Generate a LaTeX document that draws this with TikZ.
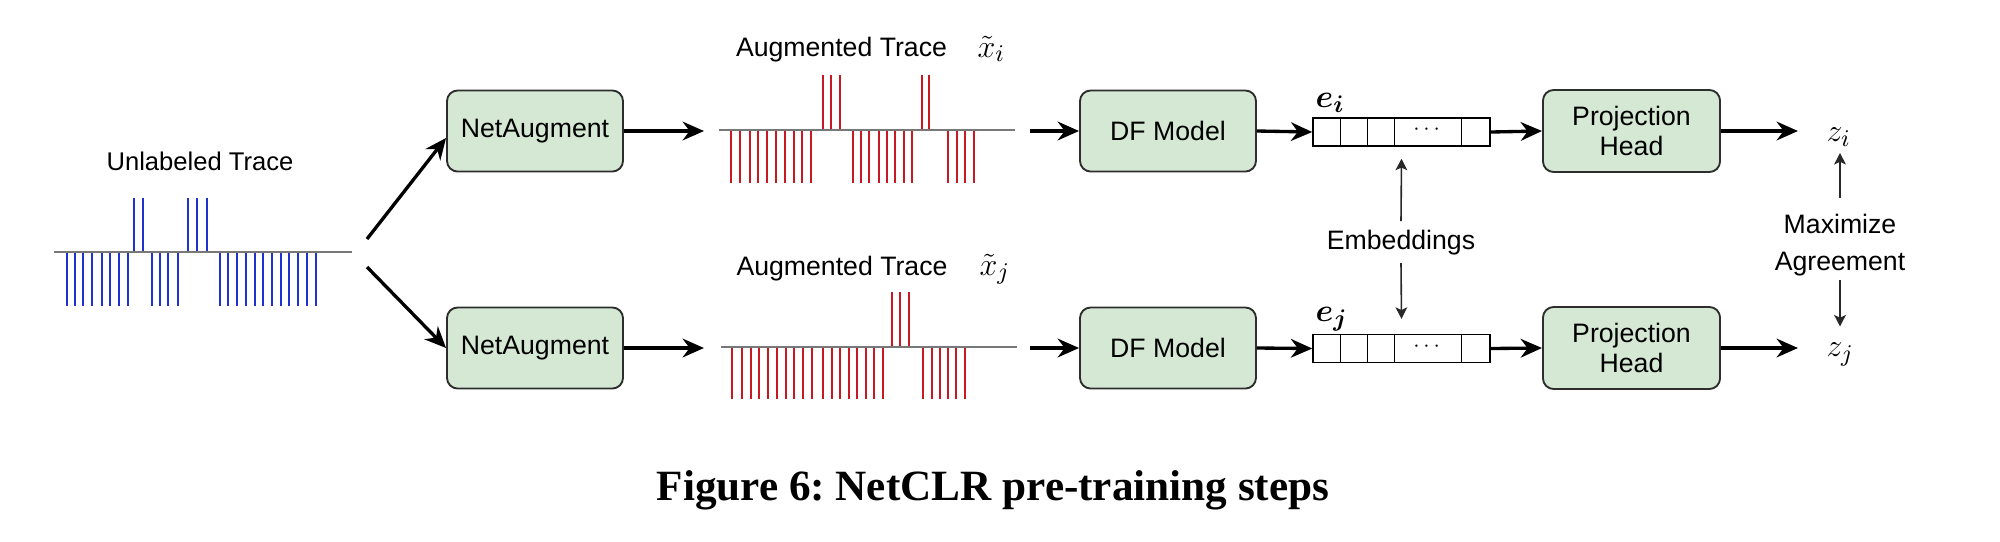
\documentclass[tikz,border=0pt]{standalone}
\usepackage{amsmath}
\usepackage{fontspec}
\setmainfont{Liberation Sans}
\newfontfamily\capfont{Liberation Serif}
\usetikzlibrary{arrows.meta}
\definecolor{boxfill}{RGB}{213,232,212}
\definecolor{boxline}{RGB}{45,45,45}
\definecolor{basegray}{RGB}{120,120,120}
\definecolor{tblue}{RGB}{30,50,210}
\definecolor{tred}{RGB}{200,25,35}
\definecolor{thingray}{RGB}{40,40,40}
\begin{document}
\begin{tikzpicture}[x=0.375pt,y=-0.375pt,
  box/.style={draw=boxline, fill=boxfill, rounded corners=4pt, line width=0.7pt,
    minimum width=66pt, minimum height=30.4pt, align=center, inner sep=0pt,
    font=\fontsize{10}{11.5}\selectfont},
  arr/.style={-{Stealth[length=8pt,width=7pt,inset=2.6pt]}, line width=1.25pt},
  thinarr/.style={-{Stealth[length=4.3pt,width=4.4pt,inset=1pt]}, line width=0.6pt, draw=thingray},
  baseline/.style={draw=basegray, line width=0.85pt},
  bbar/.style={draw=tblue, line width=0.85pt},
  rbar/.style={draw=tred, line width=0.85pt},
  lbl/.style={font=\fontsize{10}{12}\selectfont, inner sep=0pt},
  vec/.style={draw, line width=0.55pt, minimum width=66.4pt, minimum height=10.5pt, inner sep=0pt},
  mathlbl/.style={inner sep=0pt, font=\fontsize{13}{15}\selectfont}
]
\useasboundingbox (0,0) rectangle (2000,541);

% ---- Unlabeled trace ----
\node[lbl, anchor=base, font=\fontsize{9.6}{11}\selectfont] (ulab) at (200,170.7) {Unlabeled Trace};
\foreach \x in {67.3,75,83.3,92.3,101.7,110,119,128.3,151.7,160,168.3,177.7,220,228.3,236.7,245.7,255,263.3,272.3,280.7,289.3,297.7,306.7,316}
  \draw[bbar] (\x,252) -- (\x,306);
\foreach \x in {134.3,143.3,188.3,197.3,206.7}
  \draw[bbar] (\x,252) -- (\x,198);
\draw[baseline] (54,252) -- (352,252);

% ---- Augmented trace i ----
\node[lbl, anchor=base] (atli) at (841.5,56) {Augmented Trace};
\node[mathlbl, anchor=base west] (xi) at (977,57) {$\tilde{x}_i$};
\foreach \x in {731,740.3,749.7,758.3,766.7,776,785,793.7,802,811,852.7,861,869.3,878.7,887,895.3,903.7,912,948.3,957,965.3,974.3}
  \draw[rbar] (\x,130) -- (\x,182.7);
\foreach \x in {822.7,831,840,921.7,929.3}
  \draw[rbar] (\x,130) -- (\x,75);
\draw[baseline] (719,130) -- (1015,130);

% ---- Augmented trace j ----
\node[lbl, anchor=base] (atlj) at (842,275) {Augmented Trace};
\node[mathlbl, anchor=base west] (xj) at (979,275) {$\tilde{x}_j$};
\foreach \x in {732.3,742.3,751,759.3,767.7,777.3,786,794.3,802.7,812,823.3,831.7,840,849,857.3,865.7,873.7,882.7,923.3,931.7,940,947.7,956,965}
  \draw[rbar] (\x,347) -- (\x,399.3);
\foreach \x in {892,900.3,909.3}
  \draw[rbar] (\x,347) -- (\x,291.7);
\draw[baseline] (720.7,347) -- (1016.7,347);

% ---- boxes ----
\node[box] (na1) at (535,131) {NetAugment};
\node[box] (na2) at (535,348) {NetAugment};
\node[box] (df1) at (1168,131) {DF Model};
\node[box] (df2) at (1168,348) {DF Model};
\node[box, minimum width=66.4pt, minimum height=30.75pt] (ph1) at (1631.5,131) {Projection\\Head};
\node[box, minimum width=66.4pt, minimum height=30.75pt] (ph2) at (1631.5,348) {Projection\\Head};

% ---- embedding vectors ----
\node[vec] (veci) at (1401.5,132) {};
\node[vec] (vecj) at (1401.5,348.5) {};
\foreach \v in {veci,vecj}{
  \foreach \d in {28,55,82,149}
    \draw[line width=0.55pt] (\v.north west) ++(\d,0) -- ++(0,28);
}
\node[inner sep=0pt, font=\fontsize{8}{9}\selectfont] (dotsi) at (1428.5,130) {$\cdots$};
\node[inner sep=0pt, font=\fontsize{8}{9}\selectfont] (dotsj) at (1428.5,346.5) {$\cdots$};
\node[inner sep=0pt, anchor=base west, font=\fontsize{12.5}{14}\selectfont] (ei) at (1315,107) {$\boldsymbol{e}_{\boldsymbol{i}}$};
\node[inner sep=0pt, anchor=base west, font=\fontsize{12.5}{14}\selectfont] (ej) at (1315,321) {$\boldsymbol{e}_{\boldsymbol{j}}$};

% ---- outputs ----
\node[mathlbl, anchor=base west] (zi) at (1826,141.5) {$z_i$};
\node[mathlbl, anchor=base west] (zj) at (1826,356.5) {$z_j$};

% ---- side labels ----
\node[lbl, anchor=base, inner sep=3pt] (emb) at (1401,249) {Embeddings};
\node[lbl, align=center, font=\fontsize{10}{13.75}\selectfont] (maxag) at (1840,244.9) {Maximize\\Agreement};

% ---- caption ----
\node[inner sep=0pt, anchor=base, font=\capfont\bfseries\fontsize{16.2}{19}\selectfont] (cap) at (993,500) {\frenchspacing Figure 6: NetCLR pre-training steps};

% ---- connectors ----
\coordinate (us1) at (367,239);
\coordinate (us2) at (367,267);
\coordinate (tr1w) at (704,131);
\coordinate (tr2w) at (704,348);
\coordinate (tr1e) at (1030,131);
\coordinate (tr2e) at (1030,348);
\draw[arr] (us1) -- ([yshift=-2.6pt]na1.west);
\draw[arr] (us2) -- (na2.west);
\draw[arr] (na1.east) -- (tr1w);
\draw[arr] (na2.east) -- (tr2w);
\draw[arr] (tr1e) -- (df1.west);
\draw[arr] (tr2e) -- (df2.west);
\draw[arr] (df1.east) -- (veci.west);
\draw[arr] (df2.east) -- (vecj.west);
\draw[arr] (veci.east) -- (ph1.west);
\draw[arr] (vecj.east) -- (ph2.west);
\draw[arr] (ph1.east) -- ([xshift=-10.5pt]zi.west |- ph1.east);
\draw[arr] (ph2.east) -- ([xshift=-10.5pt]zj.west |- ph2.east);

\draw[thinarr] (emb.north) -- ([yshift=-4.5pt]veci.south);
\draw[thinarr] (emb.south) -- ([yshift=5.6pt]vecj.north);
\draw[thinarr] ([yshift=6pt]maxag.north) -- ([yshift=-2.3pt]zi.south -| maxag.north);
\draw[thinarr] ([yshift=-1.6pt]maxag.south) -- ([yshift=5.9pt]zj.north -| maxag.south);
\end{tikzpicture}
\end{document}
